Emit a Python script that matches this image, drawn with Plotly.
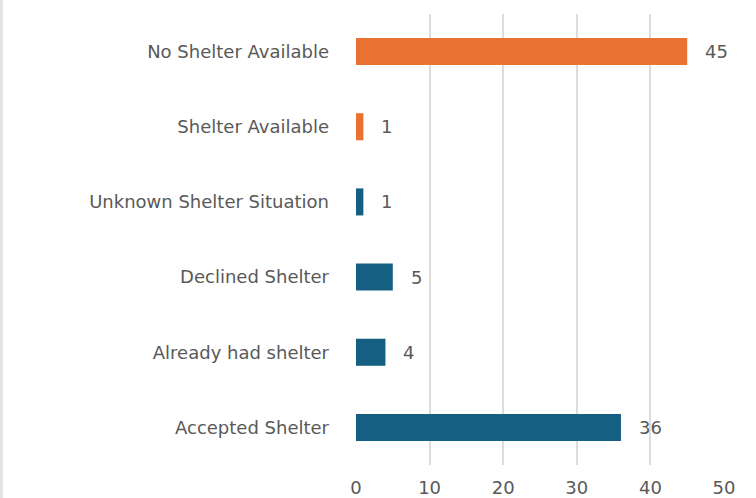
import plotly.graph_objects as go

categories = ["No Shelter Available", "Shelter Available", "Unknown Shelter Situation",
              "Declined Shelter", "Already had shelter", "Accepted Shelter"]
values = [45, 1, 1, 5, 4, 36]
colors = ["#E97132", "#E97132", "#156082", "#156082", "#156082", "#156082"]
x_ticks = [0, 10, 20, 30, 40, 50]

FONT = "DejaVu Sans"
GREY = "#595959"

fig = go.Figure()
fig.add_trace(go.Bar(
    y=categories, x=values, orientation="h",
    marker=dict(color=colors, line=dict(width=0)),
    width=0.36, showlegend=False, hoverinfo="skip",
))

for c, v in zip(categories, values):
    fig.add_annotation(x=v, y=c, text=str(v), showarrow=False, xanchor="left",
                       xshift=16, font=dict(family=FONT, size=18, color=GREY))

fig.add_shape(type="rect", xref="paper", yref="paper", x0=-356/368, x1=-353/368,
              y0=-1, y1=2, fillcolor="#e3e3e3", line=dict(width=0), layer="below")

fig.update_layout(
    width=756, height=498,
    margin=dict(l=356, r=32, t=14, b=33),
    paper_bgcolor="white", plot_bgcolor="white",
    bargap=0.64,
    font=dict(family=FONT, size=18, color=GREY),
    xaxis=dict(range=[0, 50], tickvals=x_ticks, showgrid=True, gridcolor="#dcdcdc",
               gridwidth=1.5, zeroline=False, showline=False, automargin=False,
               ticks="outside", ticklen=6, tickcolor="rgba(0,0,0,0)",
               tickfont=dict(family=FONT, size=18, color=GREY)),
    yaxis=dict(categoryorder="array", categoryarray=categories[::-1],
               showgrid=False, zeroline=False, showline=False, automargin=False,
               ticklabelstandoff=26, tickfont=dict(family=FONT, size=18, color=GREY)),
)

fig.write_html("out.html", config={"displayModeBar": False},
               post_script="document.body.style.margin='0';")
